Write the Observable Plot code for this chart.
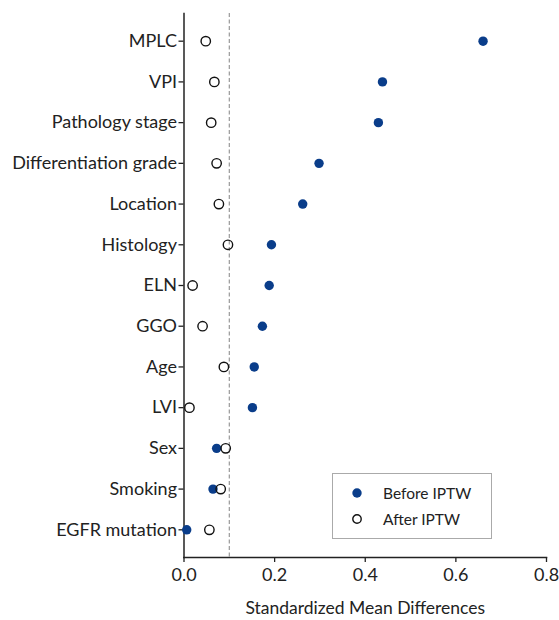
<!DOCTYPE html>
<html>
<head>
<meta charset="utf-8">
<script src="https://cdn.jsdelivr.net/npm/d3@7"></script>
<script src="https://cdn.jsdelivr.net/npm/@observablehq/plot@0.6"></script>
<style>
  body { margin: 0; background: #fff; }
  #wrap { position: relative; width: 559px; height: 620px; font-family: Lato, "Open Sans", sans-serif; }
  #legend { position: absolute; left: 332px; top: 473px; width: 158px; height: 64px; border: 1px solid #aaa; background: #fff; font-size: 15.5px; color: #222; }
  .item { position: absolute; left: 17px; display: flex; align-items: center; }
  .item svg { margin-right: 19px; }
</style>
</head>
<body>
<div id="wrap"></div>
<script>
const categories = ["MPLC", "VPI", "Pathology stage", "Differentiation grade", "Location", "Histology", "ELN", "GGO", "Age", "LVI", "Sex", "Smoking", "EGFR mutation"];
const beforeIPTW = [0.660, 0.438, 0.429, 0.298, 0.262, 0.193, 0.188, 0.173, 0.155, 0.151, 0.072, 0.064, 0.006];
const afterIPTW  = [0.048, 0.067, 0.060, 0.072, 0.077, 0.097, 0.019, 0.041, 0.088, 0.012, 0.092, 0.081, 0.056];
const threshold = [0.1];
const xTicks = [0, 0.2, 0.4, 0.6, 0.8];
const seriesLabels = ["Before IPTW", "After IPTW"];

const data = categories.map((c, i) => ({cat: c, before: beforeIPTW[i], after: afterIPTW[i]}));
const navy = "#0a3d8a";

const chart = Plot.plot({
  width: 559,
  height: 620,
  marginLeft: 183.5,
  marginRight: 13,
  marginTop: 13,
  marginBottom: 63,
  style: {fontFamily: "Lato, 'Open Sans', sans-serif", fontSize: "18px", color: "#222", background: "#fff"},
  x: {domain: [0, 0.8], ticks: xTicks, tickFormat: d3.format(".1f")},
  y: {type: "point", domain: categories, padding: 0.68, round: false},
  marks: [
    Plot.ruleX(threshold, {stroke: "#999", strokeWidth: 1.2, strokeDasharray: "4,2.5"}),
    Plot.frame({anchor: "left", stroke: "#222", strokeWidth: 1.5}),
    Plot.frame({anchor: "bottom", stroke: "#222", strokeWidth: 1.5}),
    Plot.axisX({ticks: xTicks, tickFormat: d3.format(".1f"), tickSize: 5, tickPadding: 6, fontSize: 18, stroke: "#222", strokeWidth: 1.3, label: null}),
    Plot.axisX({ticks: [], label: "Standardized Mean Differences", labelAnchor: "center", labelArrow: "none", labelOffset: 56, fontSize: 17.5}),
    Plot.axisY({tickSize: 5, tickPadding: 2, fontSize: 18, stroke: "#222", strokeWidth: 1.3, label: null}),
    Plot.dot(data, {x: "before", y: "cat", r: 4.7, fill: navy}),
    Plot.dot(data, {x: "after", y: "cat", r: 4.7, fill: "none", stroke: "#111", strokeWidth: 1.4})
  ]
});

const wrap = document.getElementById("wrap");
wrap.appendChild(chart);

const legend = document.createElement("div");
legend.id = "legend";
legend.innerHTML = `
  <div class="item" style="top:10px"><svg width="14" height="14"><circle cx="7" cy="7" r="4.7" fill="${navy}"/></svg><span>${seriesLabels[0]}</span></div>
  <div class="item" style="top:36px"><svg width="14" height="14"><circle cx="7" cy="7" r="4.2" fill="none" stroke="#111" stroke-width="1.4"/></svg><span>${seriesLabels[1]}</span></div>`;
wrap.appendChild(legend);
</script>
</body>
</html>
